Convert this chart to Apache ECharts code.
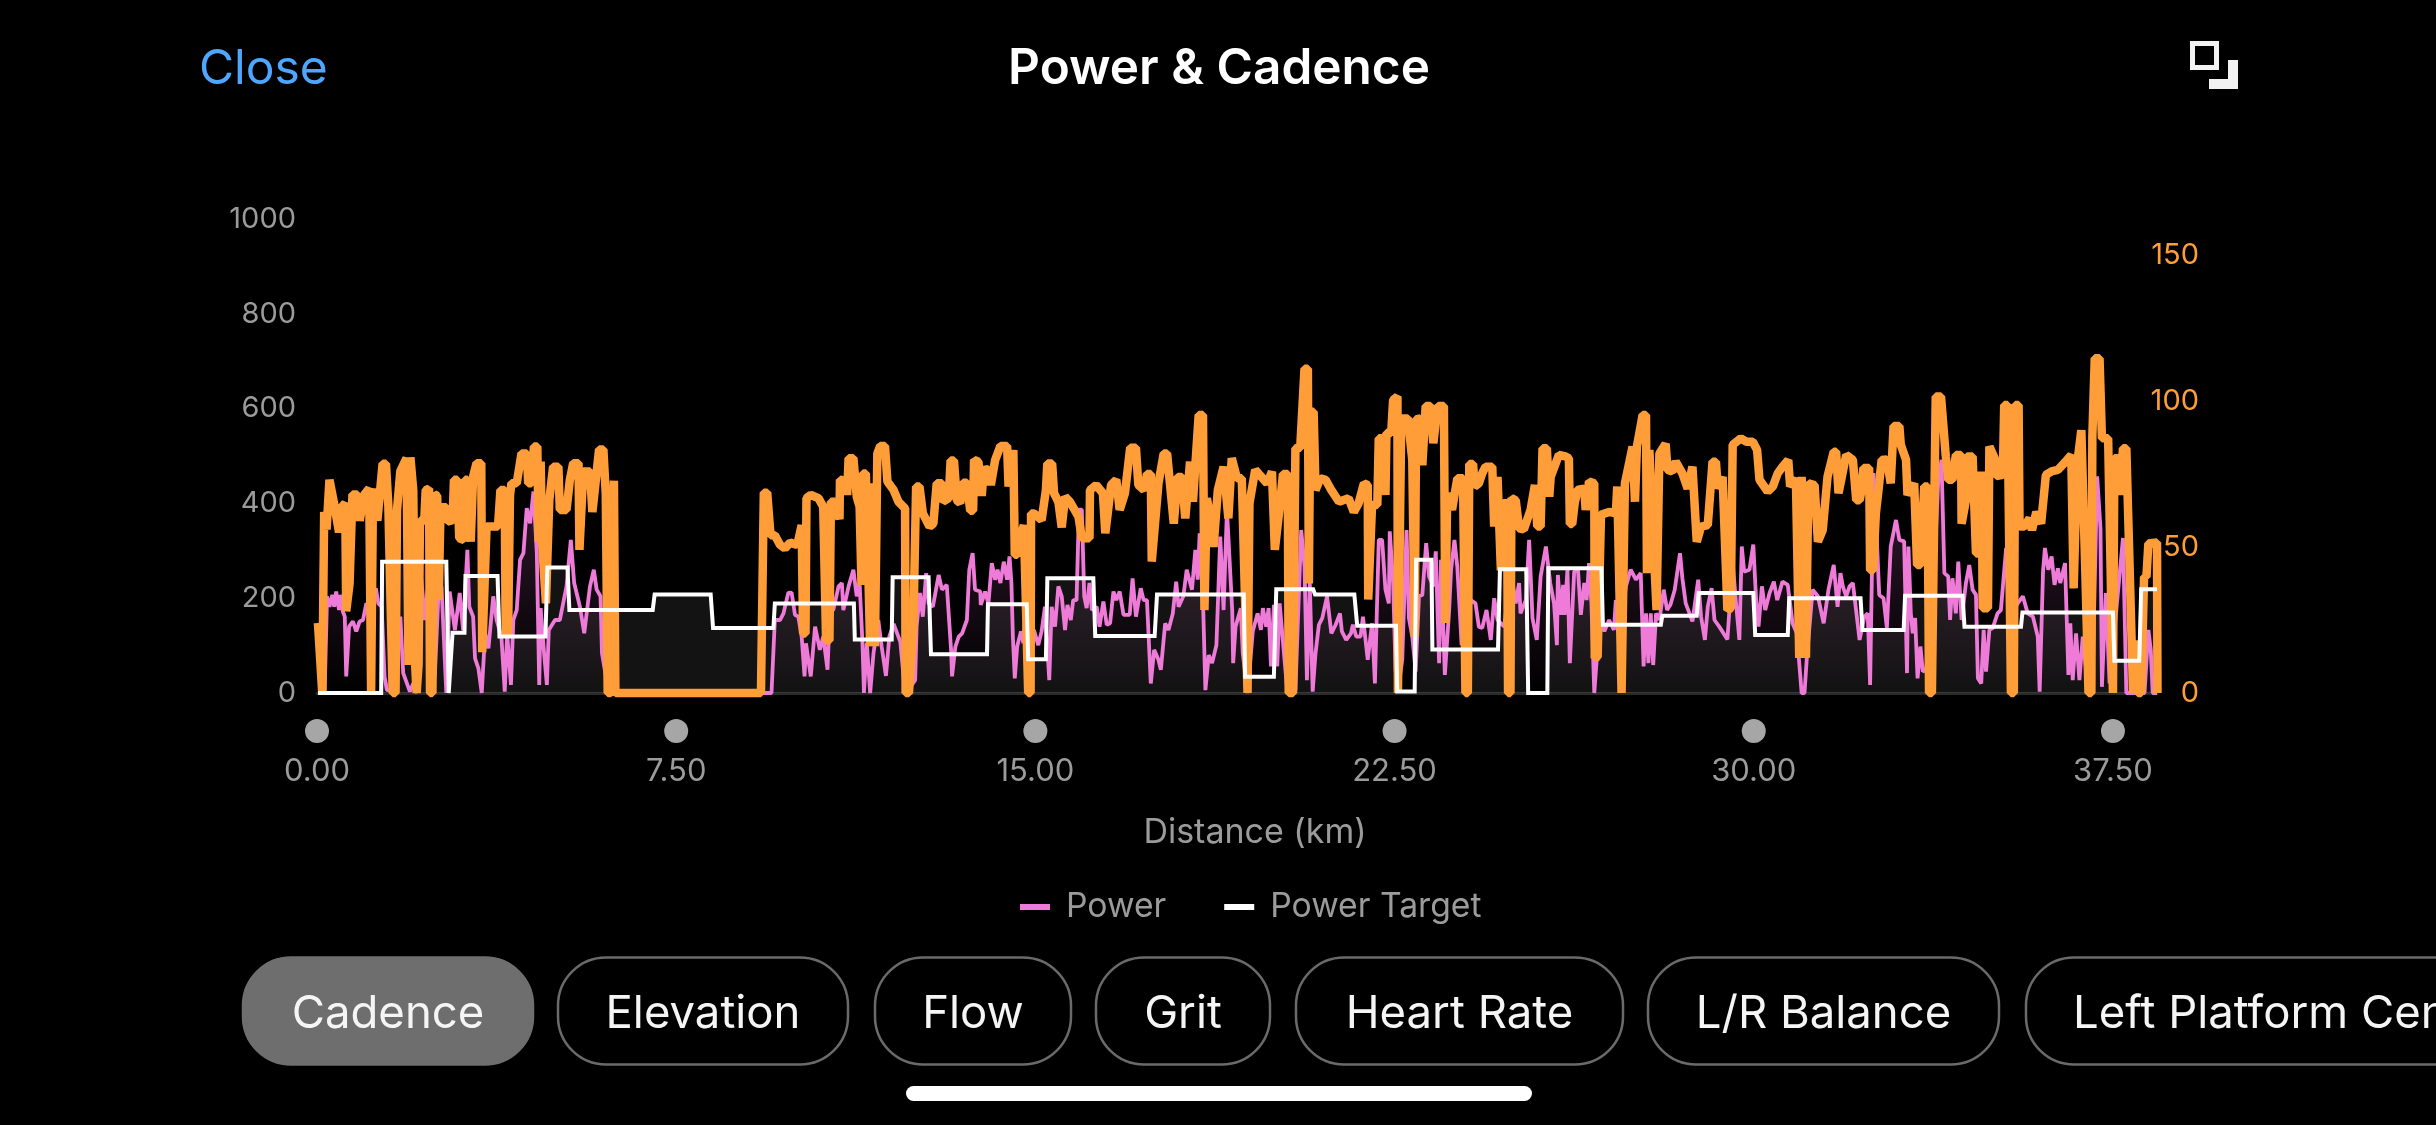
<!DOCTYPE html>
<html>
<head>
<meta charset="utf-8">
<title>Power & Cadence</title>
<script src="https://cdn.jsdelivr.net/npm/echarts@6/dist/echarts.min.js"></script>
<style>
html, body { margin: 0; padding: 0; background: #000; }
#container { width: 2436px; height: 1125px; }
</style>
</head>
<body>
<div id="container"></div>
<script>
// values: distance in km, cadence in rpm, power in W
var cadenceKm = [
    0.02,0.11,0.15,0.20,0.26,0.35,0.46,0.51,0.59,0.61,0.68,0.74,0.84,0.89,0.99,1.09,1.13,1.17,1.26,1.37,1.44,1.49,1.58,1.64,1.67,1.74,1.87,1.91,1.95,2.01,
    2.05,2.08,2.12,2.15,2.24,2.27,2.34,2.36,2.41,2.45,2.51,2.54,2.58,2.70,2.72,2.83,2.86,2.93,2.97,3.07,3.09,3.14,3.21,3.26,3.33,3.43,3.45,3.49,3.54,3.78,
    3.83,3.92,3.94,3.99,4.03,4.06,4.17,4.27,4.38,4.41,4.48,4.53,4.60,4.63,4.67,4.70,4.78,4.82,4.85,4.93,5.04,5.07,5.21,5.28,5.35,5.46,5.48,5.56,5.70,5.75,
    5.89,5.98,6.03,6.07,6.14,6.20,6.23,9.27,9.33,9.40,9.47,9.56,9.67,9.77,9.88,10.03,10.12,10.15,10.20,10.22,10.31,10.47,10.57,10.63,10.70,10.73,10.82,10.91,10.92,11.05,
    11.07,11.10,11.20,11.27,11.33,11.37,11.40,11.46,11.55,11.60,11.65,11.70,11.76,11.86,11.91,12.04,12.14,12.28,12.29,12.36,12.45,12.51,12.58,12.65,12.79,12.87,12.94,13.05,13.07,13.19,
    13.23,13.30,13.36,13.43,13.49,13.57,13.64,13.70,13.72,13.81,13.88,13.92,14.02,14.07,14.16,14.27,14.41,14.44,14.54,14.57,14.62,14.68,14.76,14.85,14.90,14.91,14.97,15.13,15.22,15.25,
    15.35,15.39,15.48,15.55,15.62,15.72,15.90,15.97,16.13,16.14,16.27,16.41,16.46,16.51,16.58,16.69,16.76,16.87,16.98,17.10,17.15,17.27,17.33,17.41,17.43,17.57,17.68,17.75,17.89,17.97,
    18.06,18.13,18.23,18.29,18.41,18.50,18.53,18.58,18.69,18.72,18.81,18.93,19.03,19.10,19.21,19.31,19.43,19.47,19.59,19.84,19.94,20.00,20.11,20.17,20.27,20.29,20.38,20.43,20.53,20.62,
    20.69,20.71,20.74,20.81,20.85,20.95,21.06,21.16,21.34,21.54,21.65,21.75,21.86,21.94,21.95,21.98,22.03,22.14,22.17,22.24,22.31,22.33,22.43,22.47,22.56,22.57,22.61,22.64,22.78,22.87,
    22.92,22.95,23.04,23.08,23.15,23.25,23.31,23.36,23.41,23.53,23.56,23.60,23.70,23.81,23.93,23.98,24.03,24.06,24.14,24.17,24.26,24.33,24.40,24.54,24.58,24.65,24.72,24.77,24.85,24.87,
    24.92,24.94,25.03,25.10,25.20,25.34,25.43,25.48,25.55,25.59,25.68,25.73,25.76,25.93,26.07,26.14,26.16,26.21,26.26,26.32,26.46,26.49,26.56,26.67,26.68,26.74,26.81,26.98,27.12,27.15,
    27.24,27.28,27.31,27.47,27.52,27.56,27.68,27.75,27.77,27.82,27.97,28.00,28.03,28.16,28.20,28.30,28.37,28.51,28.62,28.72,28.81,28.90,29.04,29.14,29.21,29.25,29.35,29.45,29.52,29.56,
    29.73,29.85,29.98,30.07,30.12,30.29,30.40,30.50,30.60,30.72,30.76,30.88,30.95,31.00,31.09,31.14,31.27,31.34,31.44,31.54,31.67,31.72,31.77,31.93,32.07,32.14,32.21,32.24,32.29,32.41,
    32.43,32.49,32.55,32.62,32.67,32.78,32.86,32.92,33.04,33.07,33.18,33.21,33.35,33.41,33.48,33.56,33.63,33.66,33.72,33.80,33.91,34.01,34.06,34.15,34.22,34.33,34.34,34.43,34.45,34.57,
    34.64,34.71,34.76,34.78,34.89,34.92,35.03,35.06,35.20,35.23,35.30,35.37,35.43,35.46,35.53,35.55,35.65,35.76,35.81,35.90,36.00,36.10,36.23,36.35,36.50,36.63,36.68,36.75,36.84,36.92,
    36.99,37.05,37.07,37.12,37.22,37.27,37.40,37.44,37.50,37.53,37.60,37.64,37.71,37.78,37.92,37.99,38.02,38.09,38.15,38.20,38.24,38.42,38.43
];
var cadenceRpm = [
    24,0,62,56,73,65.5,55,63.5,65,28,37.5,68,68,59,68,70,0.5,70,59,78.5,78.5,64,0,0,62.5,76,80.4,9.6,80.7,69.5,
    9.6,0,9.6,59,59,69.5,70,0,0,68,67.5,32,63.6,63.6,58.7,59.2,73,73,53,52.4,73,73,51.8,74,78.7,78.7,14,14,57,57,
    69.5,69.5,20.4,20.4,67.8,71.8,71.8,82,82,71.8,71.8,84.4,84.4,51.8,79.2,51.3,30.7,30.7,66,77.5,77.5,62.7,62.7,73,78.7,78.7,49,75.8,75.8,62,
    83.4,83.4,68,0,0,72.7,0,0,68.6,68.6,54,54,50.7,49.5,51.5,50.7,57.5,20.4,20.4,66.7,67.8,66.7,63.8,18,18,65.5,65.5,59.5,73,72.7,
    67.8,80.4,80.4,67.2,63.8,37,75.2,75.2,16,71.8,16,82,84.6,84.6,72.4,69.5,65.5,63.2,0,0,21.8,70.7,70.7,61.5,57,58,71.8,71.8,65.5,66.7,
    79.6,79.6,66,65,72,72,62.4,62.4,79.8,79.2,67.5,76.4,76.6,71.2,79.8,84.6,84.6,70.7,83.2,47.3,47.3,53,57.5,0,0,61.5,61.5,59.2,69.5,78.6,
    78.6,68.4,65.5,56.7,67.2,65.5,60.4,53,53,69.5,71.2,68.4,54.7,61.5,71.2,73,62.7,68.4,84,84,71.2,69.5,75,75,45,71.8,82,82,58,74,
    74,59.8,79.2,65.5,95.2,95.2,28.4,66.7,57,50,69.5,77.5,59.8,80.4,73.5,73.5,0,65,76.4,71.8,75.8,49,65,75,75,0,0,83.8,84,111,
    111,37.5,96.3,96.3,69.5,73.5,73,70,65.5,66.7,62,65,71.8,71.2,32,32,64.4,64.4,87.2,87.2,67.8,89,89,100.3,101.5,0,0,94,94,79.8,
    19.3,93.7,94,78,98.3,98.3,85.5,93,98.3,98.3,24,68.4,62.7,73.5,73.5,0,0,78.4,78.4,70.7,71.8,75.2,77.5,77.5,57,74,42,65,65,0,
    0,66.7,66,56.4,56,62.7,71.2,57,57,83.8,83.8,67.2,74,81.5,81,80.4,57.9,57.9,65,69.5,70,62.7,72.4,71.8,12,12.4,61,62,61.5,70.7,
    0,0,71.8,84.4,65.5,84.4,95.2,95.2,41,83.2,28.4,28,82,85.3,76.4,75.8,79.2,75.2,70,77.5,51.8,57,57.5,79.2,79.2,70,74,28.4,29,85,
    87.2,86,86,83.2,73,69,70.7,75.2,77.5,79.8,70.7,73.5,12,74,12,71.8,71.2,51.8,55.8,74,82.6,82.6,68.4,81.5,79.8,66,66,68.4,77,77,
    42,42,61.5,71.8,79.8,80,71.8,91.4,91.4,85,79.8,67.8,71.8,43.8,43.8,70.7,70.7,0,0,101.5,101.5,81,73,73,81.5,81.5,58,66,81,81,
    47.8,47.8,75.8,29,29,84.4,80.4,74.3,74.7,98.6,98.6,0,0,98.6,98.6,57,57,59.8,55.8,62,58,74.7,76,76.4,79,81.5,35.8,78,90,43.8,
    0,0,87.8,114.6,114.6,87.2,87.2,52,0,80.4,80.4,67.8,83.8,83.8,0,18,0,0,39.8,39.8,51.2,51.5,0
];

var powerKm = [
    0.16,0.21,0.26,0.32,0.36,0.40,0.46,0.49,0.54,0.58,0.61,0.67,0.75,0.82,0.89,0.96,1.03,1.10,1.23,1.28,1.35,1.41,1.46,1.55,1.66,1.74,1.80,1.94,2.01,2.08,
    2.18,2.25,2.32,2.39,2.46,2.53,2.60,2.70,2.77,2.88,2.98,3.05,3.14,3.18,3.26,3.30,3.37,3.44,3.51,3.58,3.68,3.75,3.85,3.92,3.97,4.05,4.10,4.17,4.24,4.31,
    4.38,4.45,4.52,4.59,4.64,4.67,4.73,4.80,4.84,4.97,5.07,5.21,5.30,5.37,5.49,5.58,5.70,5.78,5.84,5.92,5.95,6.07,6.17,9.34,9.49,9.56,9.67,9.74,9.84,9.91,
    9.98,10.05,10.12,10.18,10.21,10.31,10.40,10.50,10.57,10.66,10.71,10.78,10.89,10.96,10.99,11.10,11.20,11.27,11.33,11.39,11.42,11.48,11.55,11.62,11.72,11.79,11.88,11.95,12.04,12.18,
    12.28,12.42,12.49,12.52,12.59,12.65,12.72,12.77,12.86,12.98,13.05,13.15,13.24,13.26,13.33,13.40,13.47,13.57,13.62,13.69,13.74,13.85,13.86,13.95,14.02,14.09,14.16,14.21,14.27,14.34,
    14.41,14.46,14.50,14.53,14.57,14.62,14.70,14.75,14.80,14.89,14.97,15.06,15.13,15.20,15.29,15.34,15.41,15.48,15.55,15.62,15.67,15.74,15.79,15.86,15.91,15.97,16.02,16.07,16.13,16.18,
    16.28,16.34,16.42,16.49,16.56,16.63,16.69,16.76,16.84,16.97,17.03,17.10,17.20,17.26,17.33,17.41,17.48,17.57,17.62,17.71,17.78,17.87,17.94,17.99,18.09,18.16,18.27,18.34,18.39,18.43,
    18.50,18.55,18.62,18.69,18.78,18.86,18.93,19.00,19.11,19.13,19.18,19.29,19.33,19.43,19.54,19.64,19.71,19.75,19.82,19.87,19.92,19.98,20.05,20.10,20.26,20.43,20.55,20.62,20.67,20.73,
    20.79,20.85,20.92,20.99,21.09,21.18,21.27,21.36,21.40,21.49,21.59,21.63,21.70,21.79,21.84,21.94,22.03,22.09,22.17,22.24,22.31,22.38,22.40,22.47,22.52,22.57,22.66,22.75,22.80,22.87,
    22.94,23.01,23.08,23.16,23.22,23.31,23.36,23.43,23.47,23.55,23.64,23.68,23.75,23.81,23.90,23.96,24.09,24.19,24.26,24.33,24.42,24.51,24.58,24.65,24.79,24.92,25.03,25.10,25.13,25.24,
    25.31,25.38,25.47,25.55,25.66,25.75,25.83,25.89,25.91,25.97,26.02,26.05,26.11,26.16,26.25,26.33,26.39,26.46,26.51,26.56,26.61,26.67,26.74,26.81,26.88,26.98,27.08,27.12,27.22,27.33,
    27.43,27.54,27.64,27.70,27.75,27.80,27.85,27.90,27.96,28.03,28.12,28.19,28.26,28.35,28.46,28.51,28.58,28.72,28.84,28.90,28.98,29.04,29.12,29.18,29.28,29.45,29.56,29.63,29.70,29.75,
    29.80,29.91,29.99,30.05,30.10,30.17,30.24,30.33,30.42,30.49,30.60,30.71,30.81,30.90,31.00,31.06,31.11,31.23,31.34,31.46,31.56,31.67,31.75,31.81,31.86,31.93,32.00,32.07,32.12,32.21,
    32.24,32.31,32.38,32.43,32.50,32.55,32.62,32.71,32.78,32.86,32.97,33.04,33.14,33.20,33.23,33.28,33.32,33.37,33.42,33.48,33.53,33.60,33.73,33.85,33.92,33.98,34.06,34.10,34.15,34.22,
    34.27,34.34,34.43,34.50,34.57,34.64,34.68,34.75,34.80,34.85,34.92,34.99,35.09,35.16,35.27,35.34,35.51,35.62,35.72,35.83,35.93,35.97,36.04,36.08,36.15,36.22,36.28,36.35,36.40,36.50,
    36.57,36.61,36.66,36.73,36.80,36.87,36.97,37.08,37.17,37.24,37.27,37.35,37.43,37.57,37.71,37.78,38.16,38.24,38.29,38.33,38.42
];
var powerW = [
    0,204,182,207,182,214,175,207,172,161,35,140,151,130,151,154,189,182,221,189,182,35,6,6,98,161,42,3,20,0,
    239,154,225,154,35,196,225,0,214,133,211,133,302,182,161,73,52,0,126,94,204,154,119,3,126,17,154,175,281,295,
    390,358,425,295,17,179,98,17,133,154,154,225,323,232,182,126,225,260,218,204,84,13,0,0,0,154,154,168,211,212,
    165,161,119,35,105,35,140,91,119,49,175,175,225,232,175,225,260,204,232,105,0,105,0,84,154,98,36,119,146,108,
    0,17,27,140,211,161,253,189,182,249,218,228,91,35,98,119,126,154,260,295,218,214,186,214,189,274,239,260,232,277,
    239,288,232,119,31,98,130,105,189,63,133,101,130,182,27,182,140,225,204,133,186,154,196,196,387,387,204,179,232,175,
    182,140,193,144,147,214,196,214,165,165,242,161,221,196,196,20,91,70,49,147,133,168,235,182,204,260,218,302,239,337,
    196,6,80,63,101,330,175,387,175,63,140,179,84,0,130,168,133,179,140,179,56,186,56,189,3,6,344,267,27,232,
    3,84,144,158,204,126,144,168,130,112,126,144,119,119,161,70,147,20,323,323,218,189,341,232,49,3,70,344,158,119,
    45,204,207,316,246,225,299,63,281,38,175,260,323,267,101,179,196,189,140,137,175,112,200,154,140,260,189,232,168,196,
    323,158,112,246,309,232,189,101,249,165,228,165,260,63,256,260,165,232,196,274,189,0,98,147,130,154,133,196,140,225,
    260,239,253,56,168,63,168,59,168,154,218,175,186,218,295,242,189,151,239,161,112,182,221,154,140,113,277,189,112,309,
    256,260,313,196,140,225,175,211,235,196,235,228,147,126,0,0,77,218,204,147,218,270,182,253,225,204,225,232,189,112,
    108,161,168,17,464,373,207,200,137,309,365,323,320,42,309,168,126,158,31,98,45,49,175,443,492,253,246,154,242,168,
    277,154,232,270,218,207,31,20,133,45,133,137,168,175,306,161,189,204,168,161,119,3,256,306,260,288,228,263,232,274,
    38,147,27,126,27,119,20,56,457,348,13,211,20,175,327,0,0,133,91,0,0
];

var targetKm = [
    0.02,1.34,1.36,2.70,2.75,2.83,3.08,3.10,3.77,3.81,4.77,4.81,5.23,5.27,7.01,7.05,8.22,8.27,9.53,9.56,11.21,11.23,12.00,12.02,12.77,12.82,13.99,14.01,14.82,14.85,
    15.22,15.25,16.21,16.25,17.49,17.54,19.35,19.38,19.98,20.03,20.80,20.84,21.66,21.72,22.53,22.555,22.92,22.95,23.27,23.29,24.66,24.70,25.25,25.29,25.69,25.71,26.82,26.85,28.06,28.09,
    28.81,28.85,29.99,30.03,30.71,30.74,32.23,32.27,33.13,33.16,34.36,34.40,35.58,35.61,37.50,37.53,38.05,38.09,38.42
];
var targetW = [
    0,0,277,277,0,127,127,247,247,119,119,265,265,175,175,208,208,137,137,189,189,113,113,244,244,82,82,187,187,71,
    71,242,242,120,120,208,208,34.5,34.5,219,219,208,208,142,142,3,3,281,281,92,92,261,261,0,0,263,263,144,144,163,
    163,211,211,122.5,122.5,200,200,133,133,205,205,140,140,170,170,68,68,219,219
];

var tabNames = ['Cadence', 'Elevation', 'Flow', 'Grit', 'Heart Rate', 'L/R Balance', 'Left Platform Center'];
var tabEdges = [[243, 533], [558, 848], [875, 1071], [1096, 1270], [1296, 1623], [1648, 1999], [2026, 2560]];

var UI_FONT = 'Inter';
var pink = '#ee7bd8';
var orange = '#ff9d38';
var gray = '#9b9b9b';

function pairs(xs, ys) {
    var out = [];
    for (var i = 0; i < xs.length; i++) {
        out.push([xs[i], ys[i]]);
    }
    return out;
}

// tab buttons, header and home bar are plain screen furniture
var furniture = [
    {type: 'text', style: {x: 199, y: 70, text: 'Close', fill: '#4da6ff', font: '400 48px ' + UI_FONT, verticalAlign: 'middle'}},
    {type: 'rect', shape: {x: 2192.5, y: 43.5, width: 24, height: 24}, style: {fill: 'none', stroke: '#f2f2f2', lineWidth: 5}},
    {type: 'polygon', shape: {points: [[2228, 60], [2238, 60], [2238, 89], [2209, 89], [2209, 79], [2228, 79]]}, style: {fill: '#f2f2f2'}},
    {type: 'rect', shape: {x: 906, y: 1086, width: 626, height: 15, r: 7.5}, style: {fill: '#fff'}}
];
for (var i = 0; i < tabNames.length; i++) {
    var active = i === 0;
    var last = i === tabNames.length - 1;
    furniture.push({
        type: 'rect',
        shape: {x: tabEdges[i][0], y: 957.5, width: tabEdges[i][1] - tabEdges[i][0], height: 107, r: 48},
        style: {fill: active ? '#6e6e6e' : 'transparent', stroke: active ? '#6e6e6e' : '#6a6a6a', lineWidth: 2.5}
    });
    furniture.push({
        type: 'text',
        style: {
            x: last ? tabEdges[i][0] + 47 : (tabEdges[i][0] + tabEdges[i][1]) / 2,
            y: 1014,
            text: tabNames[i],
            fill: '#f5f5f5',
            font: '400 45.5px ' + UI_FONT,
            align: last ? 'left' : 'center',
            verticalAlign: 'middle'
        }
    });
}

var chart = echarts.init(document.getElementById('container'));

var option = {
    backgroundColor: '#000',
    animation: false,
    title: {
        text: 'Power & Cadence',
        left: 1214,
        top: 39,
        textAlign: 'center',
        textStyle: {color: '#fff', fontFamily: UI_FONT, fontWeight: 600, fontSize: 49.5}
    },
    legend: {
        left: 1015,
        top: 885,
        icon: 'rect',
        itemWidth: 30,
        itemHeight: 6,
        itemGap: 58,
        selectedMode: false,
        textStyle: {color: gray, fontFamily: UI_FONT, fontSize: 33.7, padding: [0, 0, 0, 11]},
        data: ['Power', 'Power Target']
    },
    grid: {left: 317, right: 279, top: 219, bottom: 432},
    xAxis: {
        type: 'value',
        min: 0,
        max: 38.42,
        interval: 7.5,
        splitLine: {show: false},
        axisTick: {show: false},
        axisLine: {lineStyle: {color: '#2a2a2a', width: 3}},
        name: 'Distance (km)',
        nameLocation: 'middle',
        nameGap: 123,
        nameTextStyle: {color: gray, fontFamily: UI_FONT, fontSize: 34, padding: [0, 0, 0, 36]},
        axisLabel: {
            margin: 26,
            showMaxLabel: false,
            formatter: function (v) {
                return '{dot|}\n{val|' + v.toFixed(2) + '}';
            },
            rich: {
                dot: {width: 24, height: 24, borderRadius: 12, backgroundColor: '#a6a6a6'},
                val: {color: gray, fontFamily: UI_FONT, fontSize: 31, lineHeight: 58}
            }
        }
    },
    yAxis: [
        {
            type: 'value',
            min: 0,
            max: 1000,
            interval: 200,
            splitLine: {show: false},
            axisTick: {show: false},
            axisLine: {show: false},
            axisLabel: {
                color: gray,
                fontFamily: UI_FONT,
                fontSize: 29,
                margin: 21,
                padding: [6, 0, 0, 0],
                formatter: function (v) { return String(v); }
            }
        },
        {
            type: 'value',
            position: 'right',
            min: 0,
            max: 162.3,
            interval: 50,
            splitLine: {show: false},
            axisTick: {show: false},
            axisLine: {show: false},
            axisLabel: {
                color: orange,
                fontFamily: UI_FONT,
                fontSize: 29,
                margin: 42,
                align: 'right',
                padding: [6, 0, 0, 0],
                showMaxLabel: false
            }
        }
    ],
    series: [
        {
            name: 'Power',
            type: 'line',
            yAxisIndex: 0,
            data: pairs(powerKm, powerW),
            showSymbol: false,
            clip: false,
            itemStyle: {color: pink},
            lineStyle: {color: pink, width: 3.8, join: 'bevel'},
            areaStyle: {
                color: new echarts.graphic.LinearGradient(0, 0, 0, 1, [
                    {offset: 0, color: 'rgba(238,123,216,0.32)'},
                    {offset: 1, color: 'rgba(238,123,216,0)'}
                ])
            }
        },
        {
            name: 'Cadence',
            type: 'line',
            yAxisIndex: 1,
            data: pairs(cadenceKm, cadenceRpm),
            showSymbol: false,
            clip: false,
            itemStyle: {color: orange},
            lineStyle: {color: orange, width: 8.5, join: 'bevel'}
        },
        {
            name: 'Power Target',
            type: 'line',
            yAxisIndex: 0,
            data: pairs(targetKm, targetW),
            showSymbol: false,
            clip: false,
            itemStyle: {color: '#fff'},
            lineStyle: {color: '#fff', width: 4, join: 'miter'},
            areaStyle: {color: 'rgba(255,255,255,0.105)'}
        }
    ],
    graphic: furniture
};

chart.setOption(option, true);
</script>
</body>
</html>
